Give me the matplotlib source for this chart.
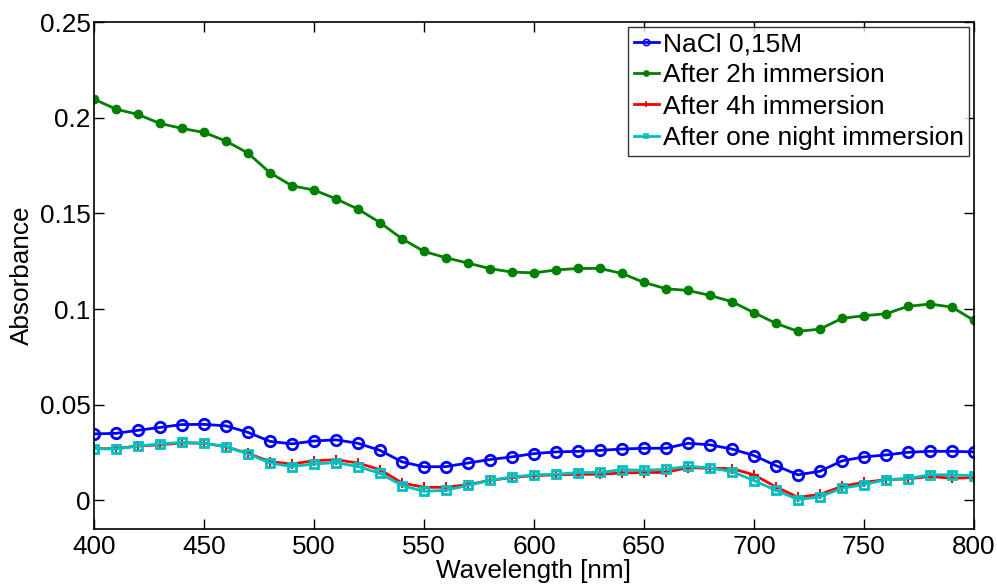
import matplotlib
matplotlib.use("Agg")
import matplotlib.pyplot as plt
import numpy as np

plt.rcParams['font.family'] = ['Liberation Sans', 'DejaVu Sans']

wavelength = np.arange(400, 801, 10)

nacl = [0.0347, 0.0350, 0.0366, 0.0381, 0.0396, 0.0397, 0.0389, 0.0355, 0.0308, 0.0295,
        0.0310, 0.0316, 0.0298, 0.0261, 0.0201, 0.0175, 0.0176, 0.0195, 0.0213, 0.0227,
        0.0244, 0.0253, 0.0256, 0.0261, 0.0268, 0.0272, 0.0272, 0.0298, 0.0290, 0.0268,
        0.0234, 0.0181, 0.0133, 0.0152, 0.0206, 0.0227, 0.0237, 0.0251, 0.0256, 0.0256,
        0.0253]

after_2h = [0.2097, 0.2045, 0.2017, 0.1970, 0.1944, 0.1923, 0.1878, 0.1815, 0.1712, 0.1644,
            0.1622, 0.1576, 0.1522, 0.1452, 0.1367, 0.1301, 0.1268, 0.1240, 0.1211, 0.1193,
            0.1189, 0.1204, 0.1212, 0.1212, 0.1186, 0.1139, 0.1106, 0.1097, 0.1071, 0.1038,
            0.0981, 0.0925, 0.0883, 0.0895, 0.0951, 0.0965, 0.0975, 0.1014, 0.1026, 0.1010,
            0.0940]

after_4h = [0.0270, 0.0270, 0.0284, 0.0290, 0.0300, 0.0298, 0.0280, 0.0245, 0.0202, 0.0190,
            0.0207, 0.0212, 0.0195, 0.0160, 0.0091, 0.0068, 0.0068, 0.0082, 0.0104, 0.0119,
            0.0129, 0.0133, 0.0136, 0.0136, 0.0143, 0.0145, 0.0146, 0.0171, 0.0167, 0.0166,
            0.0133, 0.0070, 0.0016, 0.0031, 0.0073, 0.0094, 0.0108, 0.0112, 0.0125, 0.0115,
            0.0119]

after_night = [0.0270, 0.0268, 0.0284, 0.0295, 0.0303, 0.0298, 0.0281, 0.0242, 0.0195, 0.0176,
               0.0190, 0.0197, 0.0176, 0.0141, 0.0077, 0.0047, 0.0052, 0.0078, 0.0104, 0.0122,
               0.0133, 0.0136, 0.0145, 0.0146, 0.0160, 0.0157, 0.0162, 0.0178, 0.0169, 0.0150,
               0.0103, 0.0052, 0.0004, 0.0018, 0.0063, 0.0082, 0.0108, 0.0113, 0.0134, 0.0133,
               0.0129]

labels = ['NaCl 0,15M', 'After 2h immersion', 'After 4h immersion',
          'After one night immersion']

FS = 18.8

fig = plt.figure(figsize=(9.97, 5.84), dpi=100)
ax = fig.add_axes([0.0943, 0.0942, 0.8826, 0.8680])

ax.plot(wavelength, nacl, '-o', color=(0, 0, 1), lw=2, ms=7.5, mfc='none', mew=2, label=labels[0])
ax.plot(wavelength, after_2h, '-o', color=(0, 0.5, 0), lw=2, ms=6, mew=1, label=labels[1])
ax.plot(wavelength, after_4h, '-+', color=(1, 0, 0), lw=2, ms=7, mew=1.5, label=labels[2])
ax.plot(wavelength, after_night, '-s', color=(0, 0.75, 0.75), lw=2, ms=6, mfc='none', mew=2, label=labels[3])

ax.set_xlim(400, 800)
ax.set_ylim(-0.015, 0.25)
ax.set_xticks(np.arange(400, 801, 50))
ax.set_yticks([0, 0.05, 0.1, 0.15, 0.2, 0.25])
ax.set_yticklabels(['0', '0.05', '0.1', '0.15', '0.2', '0.25'])
ax.tick_params(direction='in', length=7, width=1, top=True, right=True, labelsize=FS)
ax.tick_params(axis='x', pad=4)
ax.tick_params(axis='y', pad=2.5)
for s in ax.spines.values():
    s.set_linewidth(1.2)

ax.set_xlabel('Wavelength [nm]', fontsize=FS, labelpad=0)
ax.set_ylabel('Absorbance', fontsize=FS, labelpad=4)

leg = ax.legend(loc='upper right', fontsize=19, frameon=True, fancybox=False,
                edgecolor='black', borderaxespad=0.17, handlelength=0.95,
                handletextpad=0.15, labelspacing=0.27, borderpad=0.22, markerscale=0.6)
leg.get_frame().set_linewidth(1.0)
for h in leg.legend_handles:
    h.set_markeredgewidth(1.2)

fig.savefig('out.png', dpi=100)
